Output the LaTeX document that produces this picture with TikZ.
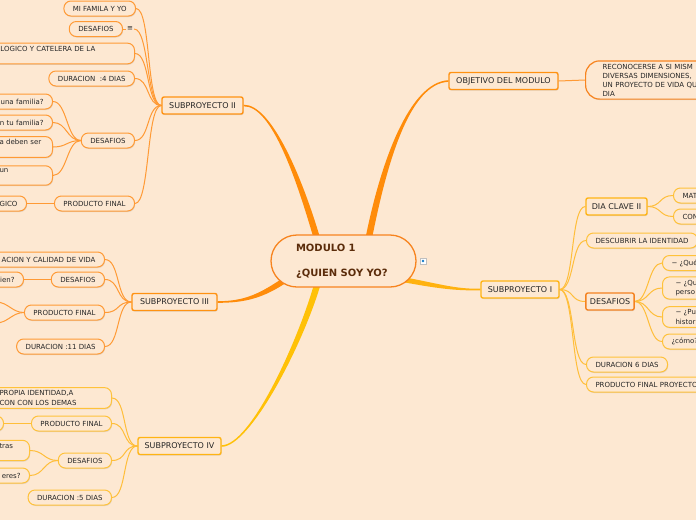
\documentclass[tikz,border=0pt]{standalone}
\usepackage{fontspec}
\setmainfont{DejaVu Sans}
\usetikzlibrary{calc,shadows}

\definecolor{bgc}{HTML}{FDE8D2}
\definecolor{ink}{HTML}{262626}
\definecolor{brownish}{HTML}{5B2C0A}
\definecolor{hubline}{HTML}{F7841F}
\definecolor{olimb}{HTML}{FF8C0A}
\definecolor{otop}{HTML}{FF9212}
\definecolor{oleaf}{HTML}{FF9A35}
\definecolor{otwig}{HTML}{FF9A35}
\definecolor{glimb}{HTML}{FFC107}
\definecolor{ylimb}{HTML}{FFB20F}
\definecolor{gtop}{HTML}{FFB414}
\definecolor{gleaf}{HTML}{FFC23A}
\definecolor{gtwig}{HTML}{FFBE3A}
\definecolor{rtop}{HTML}{F58220}

\pgfdeclarelayer{links}
\pgfsetlayers{links,main}

\tikzset{
  hub/.style={draw=hubline, line width=1.3pt, fill=bgc, rounded corners=26pt,
    minimum width=145pt, minimum height=52pt, text width=95pt, align=left,
    font=\fontsize{10}{25}\selectfont\bfseries, text=brownish},
  topic/.style={draw=#1, line width=1.4pt, fill=bgc, rounded corners=2pt,
    minimum height=17pt, inner xsep=4pt, inner ysep=2pt,
    font=\fontsize{8}{10}\selectfont, text=ink,
    drop shadow={opacity=0.22, shadow xshift=0.6pt, shadow yshift=-1pt}},
  topic/.default=otop,
  leaf/.style={draw=#1, line width=1pt, fill=bgc, rounded corners=7pt,
    minimum height=15pt, inner xsep=9pt, inner ysep=3pt,
    font=\fontsize{7}{9.5}\selectfont, text=ink,
    drop shadow={opacity=0.22, shadow xshift=0.6pt, shadow yshift=-1pt}},
  leaf/.default=oleaf,
  twig/.style={draw=#1, line width=1pt},
  twig/.default=otwig,
}

% tapered main branch: colour, from, ctrl, ctrl, to, start offset, end offset
\newcommand{\limb}[7]{%
  \fill[#1] ($(#2)+(#6)$) .. controls ($(#3)+(#6)$) and ($(#4)+(#7)$) .. ($(#5)+(#7)$)
    -- ($(#5)-(#7)$) .. controls ($(#4)-(#7)$) and ($(#3)-(#6)$) .. ($(#2)-(#6)$) -- cycle;}

\begin{document}
\begin{tikzpicture}[x=1pt, y=-1pt]
\useasboundingbox (0,0) rectangle (696,520);
\clip (0,0) rectangle (696,520);

% Centre
    \node[hub] (hub) at (343.5,261) {MODULO 1\\¿QUIEN SOY YO?};
    \node[draw=gray!50, fill=white, minimum size=6pt, inner sep=0pt] (pic) at (423,261) {};
    \fill[cyan!60!blue] (pic.center) circle (1.4);

% Subproyecto II
    \node[topic, minimum width=81pt] (sub2) at (202.5,105.5) {SUBPROYECTO II};
    \node[leaf, anchor=east] (fam) at (136,8.5) {MI FAMILA Y YO};
    \node[leaf, anchor=east] (desa) at (123,29) {DESAFIOS};
    \node[font=\fontsize{7}{8}\selectfont, text=ink, inner sep=1pt] (note) at (130,29) {≡};
    \node[leaf, anchor=east, text width=125pt, align=left] (cat) at (135,53.5) {LOGICO Y CATELERA DE LA\\\mbox{}};
    \node[leaf, anchor=east] (dur2) at (135,78.5) {DURACION~ :4 DIAS};
    \node[leaf, anchor=east] (desb) at (135,140.5) {DESAFIOS};
    \node[leaf, anchor=east, text width=44pt, align=right] (q1) at (53,101.5) {una familia?};
    \node[leaf, anchor=east, text width=44pt, align=right] (q2) at (53,122.5) {n tu familia?};
    \node[leaf, anchor=east, text width=44pt, align=left] (q3) at (53,147) {a deben ser\\\mbox{}};
    \node[leaf, anchor=east, text width=44pt, align=left] (q4) at (53,175.5) {un\\\mbox{}};
    \node[leaf, anchor=east] (prod2) at (135,203.5) {PRODUCTO FINAL};
    \node[leaf, anchor=east, text width=18pt, align=right] (gico) at (27,203.5) {GICO};

% Subproyecto III
    \node[topic, minimum width=85pt] (sub3) at (174.5,302) {SUBPROYECTO III};
    \node[leaf, anchor=east, text width=97pt, align=right] (calv) at (105,259.5) {ACION Y CALIDAD DE VIDA};
    \node[leaf, anchor=east] (desc) at (105,279.5) {DESAFIOS};
    \node[leaf, anchor=east, text width=15pt, align=right] (qien) at (24,279.5) {ien?};
    \node[leaf, anchor=east] (prod3) at (105,312.5) {PRODUCTO FINAL};
    \coordinate (p3a) at (-4,302);
    \coordinate (p3b) at (-4,323);
    \node[leaf, anchor=east] (dur3) at (105,346.5) {DURACION :11 DIAS};

% Subproyecto IV
    \node[topic=gtop, minimum width=83pt] (sub4) at (179.5,446) {SUBPROYECTO IV};
    \node[leaf=gleaf, anchor=east, text width=103pt, align=left] (iden) at (112,398) {PROPIA IDENTIDAD,A\\CON CON LOS DEMAS};
    \node[leaf=gleaf, anchor=east] (prod4) at (112,423.5) {PRODUCTO FINAL};
    \node[leaf=gleaf, anchor=east, minimum width=30pt] (p4c) at (4,423.5) {};
    \node[leaf=gleaf, anchor=east] (desd) at (112,460.5) {DESAFIOS};
    \node[leaf=gleaf, anchor=east, text width=21pt, align=left] (tras) at (30,450.5) {tras\\\mbox{}};
    \node[leaf=gleaf, anchor=east, text width=21pt, align=right] (eres) at (30,475.5) {eres?};
    \node[leaf=gleaf, anchor=east] (dur4) at (112,497.5) {DURACION :5 DIAS};

% Objetivo
    \node[topic, minimum width=109pt] (obj) at (503.5,81) {OBJETIVO DEL MODULO};
    \node[leaf=hubline, anchor=west, line width=1.2pt, rounded corners=14pt, inner xsep=17pt,
      text width=130pt, align=left, font=\fontsize{7}{9}\selectfont] (goal) at (585,80)
      {RECONOCERSE A SI MISM\\DIVERSAS DIMENSIONES,\\UN PROYECTO DE VIDA QU\\DIA};

% Subproyecto I
    \node[topic=gtop, minimum width=78pt] (sub1) at (520,289.5) {SUBPROYECTO I};
    \node[topic=gtop, minimum width=61pt] (dia) at (616.5,206.5) {DIA CLAVE II};
    \node[leaf=gleaf, anchor=west, text width=60pt, align=left] (mat) at (673,195.5) {MAT};
    \node[leaf=gleaf, anchor=west, text width=60pt, align=left] (con) at (673,216.5) {CON};
    \node[leaf=gleaf, anchor=west] (ident) at (586,240.5) {DESCUBRIR LA IDENTIDAD};
    \node[topic=rtop, minimum width=48pt] (desr) at (610,301.5) {DESAFIOS};
    \node[leaf=gleaf, anchor=west, text width=60pt, align=left] (r1) at (662,263) {− ¿Qué};
    \node[leaf=gleaf, anchor=west, text width=60pt, align=left, inner xsep=13pt] (r2) at (662,288) {− ¿Qu\\perso};
    \node[leaf=gleaf, anchor=west, text width=60pt, align=left, inner xsep=13pt] (r3) at (662,317) {− ¿Pu\\histor};
    \node[leaf=gleaf, anchor=west, text width=60pt, align=left] (r4) at (662,341.5) {¿cómo?};
    \node[leaf=gleaf, anchor=west] (dur1) at (586,364.5) {DURACION 6 DIAS};
    \node[leaf=gleaf, anchor=west, text width=110pt, align=left] (prod1) at (586,384.5) {PRODUCTO FINAL PROYECTO};

\begin{pgfonlayer}{links}
    \fill[bgc] (0,0) rectangle (696,520);
% Main branches
    \limb{olimb}{318,242}{300,180}{272,105}{sub2.east}{3.3,0}{0,-0.8}
    \limb{olimb}{368,242}{384,160}{410,83}{obj.west}{3.3,0}{0,0.8}
    \limb{olimb}{288,278}{262,296}{245,302}{sub3.east}{-1.6,-2.4}{0,-0.8}
    \limb{glimb}{318,282}{300,345}{250,446}{sub4.east}{-3.3,0}{0,-0.8}
    \limb{ylimb}{400,279}{438,286}{455,290}{sub1.west}{-0.4,2.5}{0,0.8}
% Left twigs
    \foreach \k in {fam,note,cat,dur2,desb,prod2}
      \draw[twig] (sub2.west) .. controls +(-15,0) and +(15,0) .. (\k.east);
    \foreach \k in {q1,q2,q3,q4}
      \draw[twig] (desb.west) .. controls +(-14,0) and +(14,0) .. (\k.east);
    \draw[twig] (desa.east) -- (note.west);
    \draw[twig] (prod2.west) -- (gico.east);
    \foreach \k in {calv,desc,prod3,dur3}
      \draw[twig] (sub3.west) .. controls +(-15,0) and +(15,0) .. (\k.east);
    \draw[twig] (desc.west) -- (qien.east);
    \foreach \k in {p3a,p3b}
      \draw[twig] (prod3.west) .. controls +(-12,0) and +(12,0) .. (\k);
    \foreach \k in {iden,prod4,desd,dur4}
      \draw[twig=gtwig] (sub4.west) .. controls +(-15,0) and +(15,0) .. (\k.east);
    \draw[twig=gtwig] (prod4.west) -- (p4c.east);
    \foreach \k in {tras,eres}
      \draw[twig=gtwig] (desd.west) .. controls +(-14,0) and +(14,0) .. (\k.east);
% Right twigs
    \draw[twig] (obj.east) .. controls +(14,0) and +(-14,0) .. (goal.west);
    \foreach \k in {dia,ident,desr,dur1,prod1}
      \draw[twig=gtwig] (sub1.east) .. controls +(15,0) and +(-15,0) .. (\k.west);
    \foreach \k in {mat,con}
      \draw[twig=gtwig] (dia.east) .. controls +(14,0) and +(-14,0) .. (\k.west);
    \foreach \k in {r1,r2,r3,r4}
      \draw[twig=gtwig] (desr.east) .. controls +(14,0) and +(-14,0) .. (\k.west);
\end{pgfonlayer}
\end{tikzpicture}
\end{document}
